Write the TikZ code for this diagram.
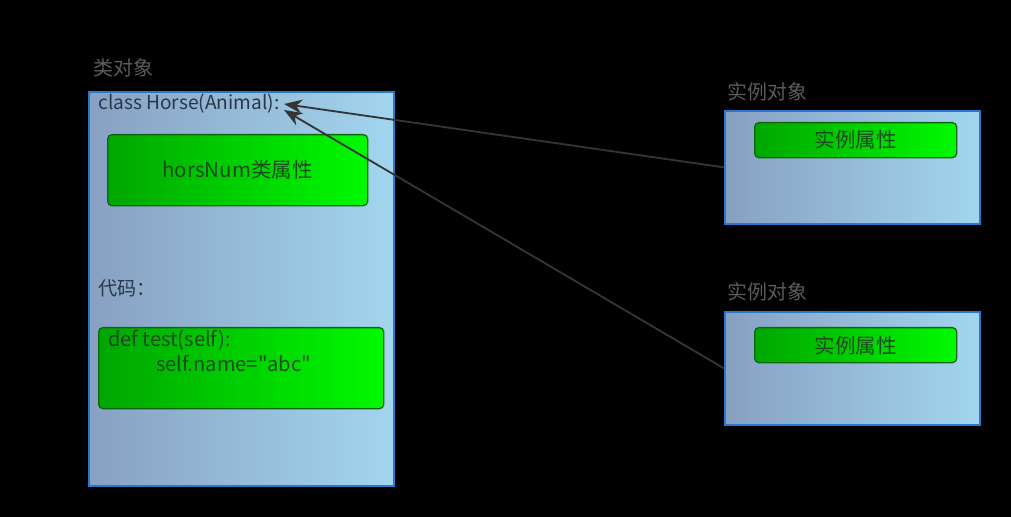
\documentclass[tikz,border=0pt]{standalone}
\usepackage{fontspec}
\setmainfont{Noto Sans CJK SC}
\newfontfamily\plaincode{Noto Sans CJK SC}
\usetikzlibrary{arrows.meta}
\definecolor{boxblue}{HTML}{2A78CC}
\definecolor{boxl}{HTML}{88A0C2}
\definecolor{boxr}{HTML}{A2D6EE}
\definecolor{grnl}{HTML}{00A600}
\definecolor{grnr}{HTML}{00FA00}
\definecolor{grnline}{HTML}{0E650E}
\definecolor{lblgray}{HTML}{5C5C5C}
\definecolor{txtdark}{HTML}{2A3748}
\definecolor{txtgrn}{HTML}{1C4A1C}
\definecolor{arrgray}{HTML}{353535}
\begin{document}
\begin{tikzpicture}[x=0.025cm, y=-0.025cm]
   \tikzstyle{objbox} = [draw=boxblue, line width=1.2pt, left color=boxl,
                         right color=boxr, inner sep=0pt, anchor=north west];
   \tikzstyle{attrbox} = [draw=grnline, line width=0.9pt, rounded corners=3pt,
                          left color=grnl, right color=grnr, inner sep=0pt,
                          anchor=north west, text=txtgrn,
                          font=\fontsize{14.6}{17}\selectfont];
   \tikzstyle{lbl} = [anchor=base west, inner sep=0pt, text=lblgray,
                      font=\fontsize{14.2}{17}\selectfont];
   \tikzstyle{code} = [anchor=base west, inner sep=0pt,
                       font=\fontsize{13.6}{16}\selectfont];
   \tikzstyle{arr} = [arrgray, line width=1.3pt,
                      -{Stealth[length=13pt, width=10pt]}];

    \fill[black] (0,0) rectangle (1011,517);

    % class object
    \node[lbl] (lcls) at (93,76) {类对象};
    \node[objbox, minimum width=7.625cm, minimum height=9.85cm] (cls) at (88,91) {};
    \node[code, text=txtdark] (chead) at (98,110) {class Horse(Animal):};
    \node[attrbox, minimum width=6.5cm, minimum height=1.775cm] (cattr)
         at (107,134) {horsNum类属性};
    \node[code, text=txtdark] (lcode) at (98,296) {代码：};
    \node[attrbox, minimum width=7.125cm, minimum height=2.025cm] (cmeth) at (98,327) {};
    \node[code, text=txtgrn, font=\fontsize{14.3}{17}\plaincode] (mdef)
         at (108,346) {def test(self):};
    \node[code, text=txtgrn, font=\fontsize{14.3}{17}\plaincode] (mbody)
         at (156,371) {self.name="abc"};

    % instance objects
    \node[lbl] (linst1) at (727,100) {实例对象};
    \node[objbox, minimum width=6.375cm, minimum height=2.825cm] (inst1) at (724,110) {};
    \node[attrbox, minimum width=5.05cm, minimum height=0.875cm] (iattr1)
         at (754,122) {实例属性};

    \node[lbl] (linst2) at (727,300) {实例对象};
    \node[objbox, minimum width=6.375cm, minimum height=2.825cm] (inst2) at (724,311) {};
    \node[attrbox, minimum width=5.05cm, minimum height=0.875cm] (iattr2)
         at (754,327) {实例属性};

    %% both instances point back to the class
    \coordinate (tip1) at (284,104);
    \coordinate (tip2) at (284,110);
    \path[arr] (inst1.west) edge (tip1);
    \path[arr] (inst2.west) edge (tip2);

\end{tikzpicture}
\end{document}
